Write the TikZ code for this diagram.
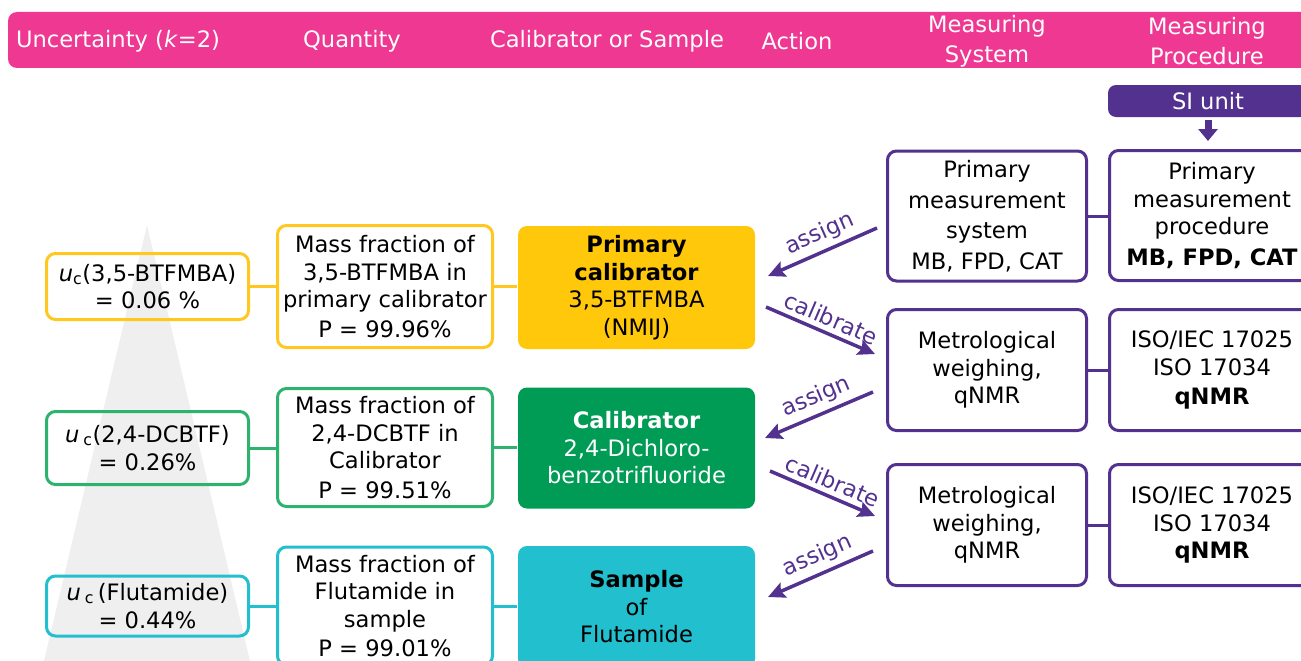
\documentclass[tikz,border=0pt]{standalone}
\usepackage{fontspec}
\setmainfont{DejaVu Sans}
\usetikzlibrary{arrows.meta}
\definecolor{hpink}{HTML}{EE3892}
\definecolor{purp}{HTML}{52318F}
\definecolor{yel}{HTML}{FFC80B}
\definecolor{yelb}{HTML}{FFC820}
\definecolor{grn}{HTML}{009B55}
\definecolor{grnb}{HTML}{2DB36D}
\definecolor{cyn}{HTML}{22BFCE}
\definecolor{tri}{HTML}{EFEFEF}
\newcommand\myfs{\fontsize{22.6}{27.5}\selectfont}
\begin{document}
\begin{tikzpicture}[x=1pt,y=-1pt,
 txt/.style={font=\myfs, align=center, inner sep=0pt},
 box/.style={txt, rounded corners=9pt, line width=3pt},
 ubox/.style={box, draw, minimum width=202pt},
 qbox/.style={box, draw, fill=white, minimum width=215pt},
 cbox/.style={box, minimum width=237pt},
 pbox/.style={box, draw=purp, fill=white},
 link/.style={line width=3pt},
 actf/.style={draw=purp, line width=3.5pt, {Stealth[length=17pt,width=16pt,inset=3pt]}-},
 actb/.style={draw=purp, line width=3.5pt, -{Stealth[length=17pt,width=16pt,inset=3pt]}},
 actl/.style={txt, text=purp, sloped, above, inner sep=5pt, pos=0.54},
 head/.style={txt, text=white},
]
\useasboundingbox (0,0) rectangle (1301,661);
\clip (0,0) rectangle (1301,661);
% header
\fill[hpink, rounded corners=9pt] (8,12) rectangle (1330,68);
\node[head] (h1) at (118,41) {Uncertainty (\textit{k}=2)};
\node[head] (h2) at (352,41) {Quantity};
\node[head] (h3) at (607,41) {Calibrator or Sample};
\node[head] (h4) at (797,41) {Action};
\node[head, font=\fontsize{22.6}{30}\selectfont] (h5) at (987,41) {Measuring\\System};
\node[head, font=\fontsize{22.6}{30}\selectfont] (h6) at (1207,41) {Measuring\\Procedure};
% triangle
\fill[tri] (147,225) -- (44,661) -- (250,661) -- cycle;
% uncertainty boxes
\node[ubox, draw=yelb, minimum height=66pt] (U1) at (147.5,286.5) {\textit{u}\textsubscript{c}(3,5-BTFMBA)\\= 0.06 \%};
\node[ubox, draw=grnb, minimum height=73pt] (U2) at (147.5,448) {\textit{u}\,\textsubscript{c}(2,4-DCBTF)\\= 0.26\%};
\node[ubox, draw=cyn, minimum height=60pt] (U3) at (147.5,606) {\textit{u}\,\textsubscript{c}\,(Flutamide)\\= 0.44\%};
% quantity boxes
\node[qbox, draw=yelb, minimum height=122pt] (Q1) at (385,286.5) {Mass fraction of\\3,5-BTFMBA in\\primary calibrator\\[2pt]P = 99.96\%};
\node[qbox, draw=grnb, minimum height=118pt] (Q2) at (385,447.5) {Mass fraction of\\2,4-DCBTF in\\Calibrator\\[2pt]P = 99.51\%};
\node[qbox, draw=cyn, minimum height=118pt] (Q3) at (385,606) {Mass fraction of\\Flutamide in\\sample\\[2pt]P = 99.01\%};
% calibrator / sample boxes
\node[cbox, fill=yel, minimum height=123pt] (PC) at (636.5,287.5) {\textbf{Primary}\\\textbf{calibrator}\\3,5-BTFMBA\\(NMIJ)};
\node[cbox, fill=grn, text=white, minimum height=121pt] (CAL) at (636.5,448) {\textbf{Calibrator}\\2,4-Dichloro-\\benzotrifluoride};
\node[cbox, fill=cyn, minimum height=122pt] (SMP) at (636.5,607) {\textbf{Sample}\\of\\Flutamide};
% measuring system / procedure
\node[pbox, minimum width=199pt, minimum height=130pt, font=\fontsize{22.6}{30.5}\selectfont] (MS1) at (987,216) {Primary\\measurement\\system\\MB, FPD, CAT};
\node[pbox, minimum width=205pt, minimum height=130pt] (MP1) at (1212,215.5) {Primary\\measurement\\procedure\\[3pt]\textbf{MB, FPD, CAT}};
\node[pbox, minimum width=199pt, minimum height=121pt] (MS2) at (987,370) {Metrological\\weighing,\\qNMR};
\node[pbox, minimum width=205pt, minimum height=121pt] (MP2) at (1212,370) {ISO/IEC 17025\\ISO 17034\\[2pt]\textbf{qNMR}};
\node[pbox, minimum width=199pt, minimum height=121pt] (MS3) at (987,525) {Metrological\\weighing,\\qNMR};
\node[pbox, minimum width=205pt, minimum height=121pt] (MP3) at (1212,525) {ISO/IEC 17025\\ISO 17034\\\textbf{qNMR}};
% SI unit
\node[txt, fill=purp, text=white, rounded corners=8pt, minimum width=200pt, minimum height=32pt] (SI) at (1208,101) {SI unit};
\draw[purp, line width=7pt, -{Triangle[length=12pt,width=19pt]}, shorten <=3pt, shorten >=8pt] (SI.south) -- (SI.south |- MP1.north);
% links
\draw[link, yelb] (U1.east) -- (U1.east -| Q1.west);
\draw[link, yelb] (Q1.east) -- (Q1.east -| PC.west);
\draw[link, grnb] (U2.east) -- (U2.east -| Q2.west);
\draw[link, grnb] (Q2.east) -- (Q2.east -| CAL.west);
\draw[link, cyn] (U3.east) -- (U3.east -| Q3.west);
\draw[link, cyn] (U3.east -| Q3.east) -- (U3.east -| SMP.west);
\draw[link, purp] (MS1.east) -- (MS1.east -| MP1.west);
\draw[link, purp] (MS2.east) -- (MP2.west);
\draw[link, purp] (MS3.east) -- (MP3.west);
% actions
\coordinate (a1s) at (877,228); \coordinate (a1e) at (768,276);
\coordinate (c1s) at (766,307); \coordinate (c1e) at (875,354);
\coordinate (a2s) at (873,392); \coordinate (a2e) at (765,438);
\coordinate (c2s) at (770,471); \coordinate (c2e) at (875,516);
\coordinate (a3s) at (873,551); \coordinate (a3e) at (768,597);
\draw[actf] (a1e) -- node[actl] {assign} (a1s);
\draw[actb] (c1s) -- node[actl] {calibrate} (c1e);
\draw[actf] (a2e) -- node[actl] {assign} (a2s);
\draw[actb] (c2s) -- node[actl] {calibrate} (c2e);
\draw[actf] (a3e) -- node[actl] {assign} (a3s);
\end{tikzpicture}
\end{document}
